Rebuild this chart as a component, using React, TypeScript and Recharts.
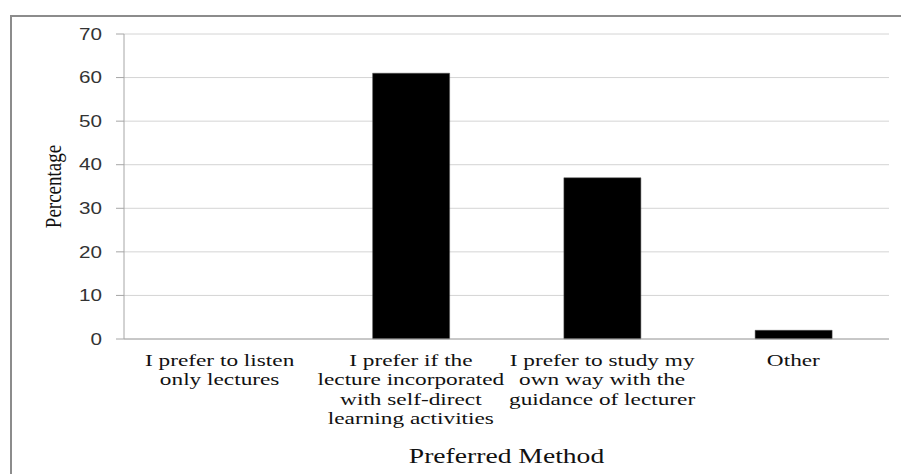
import { BarChart, Bar, XAxis, YAxis, CartesianGrid } from 'recharts'

// values
const categories = [
  'I prefer to listen only lectures',
  'I prefer if the lecture incorporated with self-direct learning activities',
  'I prefer to study my own way with the guidance of lecturer',
  'Other',
]
const categoryLines = [
  ['I prefer to listen', 'only lectures'],
  ['I prefer if the', 'lecture incorporated', 'with self-direct', 'learning activities'],
  ['I prefer to study my', 'own way with the', 'guidance of lecturer'],
  ['Other'],
]
const percentages = [0, 61, 37, 2]
const yTicks = [0, 10, 20, 30, 40, 50, 60, 70]

const data = categories.map((name, i) => ({ name, value: percentages[i] }))

const SERIF = '"Liberation Serif", "Times New Roman", serif'
const SANS = '"Liberation Sans", Arial, sans-serif'
const STRETCH = 1.37

const XTick = (props: any) => {
  const { x, y, index } = props
  const lines = categoryLines[index] || []
  return (
    <g transform={`translate(${x},${y + 27}) scale(${STRETCH},1)`}>
      <text textAnchor="middle" fontFamily={SERIF} fontSize={17} fill="#111">
        {lines.map((l, i) => (
          <tspan key={i} x={0} y={i * 19.5}>
            {l}
          </tspan>
        ))}
      </text>
    </g>
  )
}

const YTick = (props: any) => {
  const { x, y, payload } = props
  return (
    <g transform={`translate(${x},${y}) scale(1.29,1)`}>
      <text textAnchor="end" dy="0.36em" fontFamily={SANS} fontSize={16} fill="#333">
        {payload.value}
      </text>
    </g>
  )
}

const XTitle = (props: any) => {
  const vb = props.viewBox
  return (
    <g transform={`translate(${vb.x + vb.width / 2},${vb.y + 124}) scale(1.38,1)`}>
      <text textAnchor="middle" fontFamily={SERIF} fontSize={20} fill="#111">
        Preferred Method
      </text>
    </g>
  )
}

const YTitle = (props: any) => {
  const vb = props.viewBox
  return (
    <g transform={`translate(61,${vb.y + vb.height / 2}) scale(1.2,1) rotate(-90)`}>
      <text textAnchor="middle" fontFamily={SERIF} fontSize={19} fill="#111">
        Percentage
      </text>
    </g>
  )
}

export default function App() {
  return (
    <div style={{ position: 'absolute', left: 0, top: 0, width: 901, height: 474, overflow: 'hidden', background: '#fff' }}>
      <div
        style={{
          position: 'absolute',
          left: 10,
          top: 15,
          width: 900,
          height: 470,
          border: '2px solid #8c8c8c',
          boxSizing: 'border-box',
        }}
      />
      <div style={{ position: 'absolute', left: 0, top: 0 }}>
        <BarChart
          width={901}
          height={474}
          data={data}
          margin={{ top: 34, right: 12, bottom: 0, left: 0 }}
          barCategoryGap="30%"
        >
          <CartesianGrid vertical={false} stroke="#d4d4d4" />
          <XAxis
            dataKey="name"
            height={135}
            tickLine={false}
            tickSize={0}
            tickMargin={0}
            axisLine={{ stroke: '#a6a6a6' }}
            tick={<XTick />}
            interval={0}
            label={{ content: XTitle }}
          />
          <YAxis
            width={124}
            domain={[0, 70]}
            ticks={yTicks}
            interval={0}
            tickSize={8}
            tickMargin={14}
            tickLine={{ stroke: '#a6a6a6' }}
            axisLine={{ stroke: '#a6a6a6' }}
            tick={<YTick />}
            label={{ content: YTitle }}
          />
          <Bar dataKey="value" fill="#000" stroke="#555" strokeWidth={0.5} isAnimationActive={false} />
        </BarChart>
      </div>
    </div>
  )
}
